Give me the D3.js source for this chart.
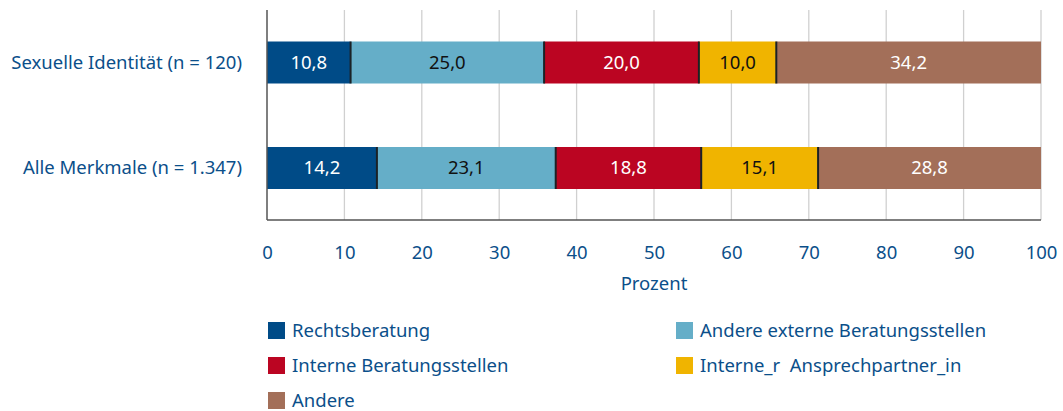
<!DOCTYPE html>
<html><head><meta charset="utf-8">
<script src="https://cdn.jsdelivr.net/npm/d3@7"></script>
<style>body{margin:0;background:#fff}svg{display:block}text{font-family:"Noto Sans",sans-serif}</style>
</head><body>
<svg id="c" width="1063" height="411"></svg>
<script>
const categories = ["Sexuelle Identität (n = 120)", "Alle Merkmale (n = 1.347)"];
const seriesNames = ["Rechtsberatung", "Andere externe Beratungsstellen", "Interne Beratungsstellen", "Interne_r  Ansprechpartner_in", "Andere"];
const rechtsberatung = [10.8, 14.2];
const andereExterne = [25.0, 23.1];
const interne = [20.0, 18.8];
const ansprech = [10.0, 15.1];
const andere = [34.2, 28.8];
const xTicks = [0,10,20,30,40,50,60,70,80,90,100];
const colors = ["#004b87", "#65aec8", "#bb0522", "#f0b400", "#a36f59"];
const labelColors = ["#fff", "#111", "#fff", "#111", "#fff"];
const seriesValues = [rechtsberatung, andereExterne, interne, ansprech, andere];

const svg = d3.select("#c");
const blue = "#0b4f8a";
const FS = 18.5;
const x = d3.scaleLinear().domain([0,100]).range([267,1041]);
const y = d3.scalePoint().domain(categories).range([62.5,168]);

svg.append("g").selectAll("line").data(xTicks.slice(1)).join("line")
  .attr("x1", d=>x(d)).attr("x2", d=>x(d)).attr("y1", 10).attr("y2", 220)
  .attr("stroke", "#d0d0d0").attr("stroke-width", 1.3);

const rows = categories.map((c,i)=>{ const o={cat:c}; seriesNames.forEach((s,j)=>o[s]=seriesValues[j][i]); return o; });
const stack = d3.stack().keys(seriesNames)(rows);

const bh = 42;
stack.forEach((layer, j) => {
  const g = svg.append("g");
  g.selectAll("rect").data(layer).join("rect")
    .attr("x", d=>x(d[0])).attr("width", d=>x(d[1])-x(d[0]))
    .attr("y", d=>y(d.data.cat)-bh/2).attr("height", bh)
    .attr("fill", colors[j]);
  if (j>0) {
    g.selectAll("line").data(layer).join("line")
      .attr("x1", d=>x(d[0])).attr("x2", d=>x(d[0]))
      .attr("y1", d=>y(d.data.cat)-bh/2).attr("y2", d=>y(d.data.cat)+bh/2)
      .attr("stroke", "#1b2226").attr("stroke-width", 2);
  }
  g.selectAll("text").data(layer).join("text")
    .attr("x", d=>(x(d[0])+x(d[1]))/2).attr("y", d=>y(d.data.cat))
    .attr("dy", "0.35em").attr("text-anchor", "middle")
    .attr("font-size", FS).attr("fill", labelColors[j])
    .text(d=>d3.format(".1f")(d[1]-d[0]).replace(".", ","));
});

svg.append("line").attr("x1", 267).attr("x2", 267).attr("y1", 10).attr("y2", 220).attr("stroke", "#555").attr("stroke-width", 1.5);
svg.append("line").attr("x1", 267).attr("x2", 1041).attr("y1", 220).attr("y2", 220).attr("stroke", "#555").attr("stroke-width", 1.5);

const xAxis = d3.axisBottom(x).tickValues(xTicks).tickSize(0).tickPadding(0);
const ax = svg.append("g").attr("transform", "translate(0,246)").call(xAxis);
ax.select(".domain").remove();
ax.selectAll("text").attr("font-size", FS).attr("fill", blue).attr("font-family", '"Noto Sans",sans-serif');

svg.append("text").attr("x", x(50)).attr("y", 290).attr("text-anchor", "middle")
  .attr("font-size", FS).attr("fill", blue).text("Prozent");

svg.append("g").selectAll("text").data(categories).join("text")
  .attr("x", 242).attr("y", d=>y(d)).attr("dy", "0.35em")
  .attr("text-anchor", "end").attr("font-size", FS).attr("fill", blue).text(d=>d);

const legPos = [[268,322],[676,322],[268,357],[676,357],[268,392]];
const lg = svg.append("g").selectAll("g").data(seriesNames).join("g")
  .attr("transform", (d,i)=>`translate(${legPos[i][0]},${legPos[i][1]})`);
lg.append("rect").attr("width", 17).attr("height", 17).attr("fill", (d,i)=>colors[i]);
lg.append("text").attr("x", 24).attr("y", 8.5).attr("dy", "0.35em").attr("font-size", FS).attr("fill", blue)
  .style("white-space", "pre").text(d=>d);
</script>
</body></html>
